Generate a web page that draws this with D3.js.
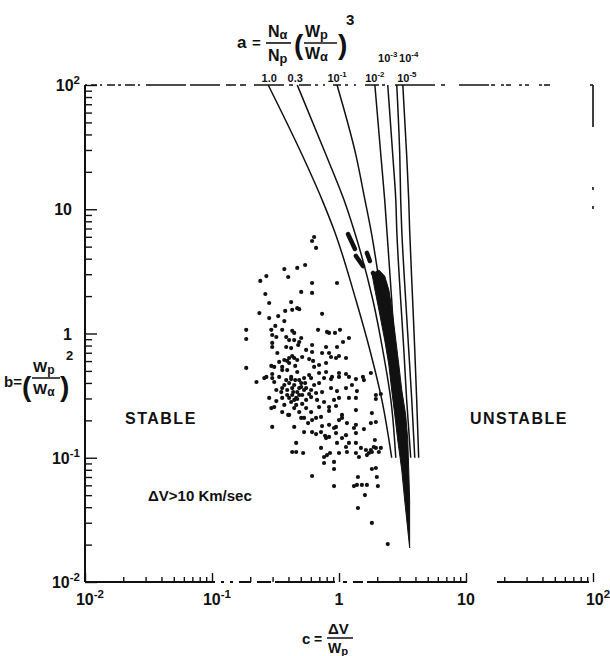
<!DOCTYPE html>
<html><head><meta charset="utf-8">
<script src="https://cdn.jsdelivr.net/npm/d3@7"></script>
<style>
body{margin:0;background:#fff}
text{font-family:"Liberation Sans",Arial,Helvetica,sans-serif;font-weight:bold;fill:#111}
</style>
</head><body>
<svg id="chart" width="610" height="656"></svg>
<script>
// ---------------- DATA ----------------
const xMajorTicks = [0.01, 0.1, 1, 10, 100];
const xTickBase = ["10", "10", "1", "10", "10"];
const xTickExp  = ["-2", "-1", "", "", "2"];
const yMajorTicks = [0.01, 0.1, 1, 10, 100];
const yTickBase = ["10", "10", "1", "10", "10"];
const yTickExp  = ["-2", "-1", "", "", "2"];

// threshold curves: label of parameter a, and c values at common b samples
const curveB = [100, 27.3, 11.9, 6.81, 1.86, 0.737, 0.292, 0.1];
const curveLabelBase = ["1.0", "0.3", "10", "10", "10", "10", "10"];
const curveLabelExp  = ["", "", "-1", "-2", "-3", "-4", "-5"];
const curveA1    = [0.277, 0.513, 0.736, 0.914, 1.359, 1.75, 2.175, 2.60];
const curveA03   = [0.469, 0.791, 1.094, 1.311, 1.848, 2.21, 2.56, 2.80];
const curveA1e1  = [0.965, 1.359, 1.600, 1.782, 2.175, 2.47, 2.75, 3.12];
const curveA1e2  = [1.916, 2.135, 2.29, 2.38, 2.60, 2.75, 3.01, 3.41];
const curveA1e3  = [2.42, 2.65, 2.80, 2.85, 3.06, 3.24, 3.41, 3.67];
const curveA1e4  = [2.85, 3.01, 3.06, 3.12, 3.35, 3.54, 3.74, 3.95];
const curveA1e5  = [3.18, 3.41, 3.54, 3.60, 3.80, 3.95, 4.09, 4.24];

// dense band of observations (outline, c and b)
const bandC = [1.82,1.92,2.10,2.29,2.47,2.60,2.75,2.90,3.12,3.29,3.60,
               3.60,3.54,3.48,3.35,3.12,2.96,2.80,2.65,2.47,2.29,2.06];
const bandB = [3.01,2.24,1.41,0.886,0.558,0.351,0.221,0.139,0.0797,0.0457,0.0188,
               0.0457,0.0797,0.139,0.221,0.351,0.558,0.886,1.41,2.24,2.90,3.24];
// short dense streaks above the band: [c1,b1,c2,b2]
const streaks = [[1.177,6.32,1.335,4.79],[1.359,4.21,1.543,3.49],[1.659,4.45,1.75,3.83],[1.85,3.07,2.175,2.50]];

// individual observations [c, b]
const observedCB = [
[0.637,5.98],[0.614,5.55],[0.660,4.88],[0.541,3.56],[0.469,3.37],[0.371,3.30],[0.398,2.85],[0.268,2.90],
[0.240,2.65],[0.614,2.55],[0.965,2.55],[0.614,2.12],[0.504,2.16],[0.263,2.08],[0.282,1.76],[0.420,1.79],
[0.469,1.60],[0.486,1.57],[0.428,1.55],[0.377,1.52],[0.236,1.46],[0.736,1.44],[0.332,1.38],[0.282,1.33],
[0.371,1.26],[0.315,1.15],[0.186,1.07],[0.186,0.903],[0.293,1.07],[0.298,0.973],[0.321,0.937],[0.357,1.07],
[0.428,1.05],[0.444,1.01],[0.384,0.937],[0.684,1.07],[0.835,1.01],[0.805,1.03],[0.930,1.01],[1.018,1.07],
[1.198,0.920],[1.075,0.854],[0.504,0.920],[0.486,0.854],[0.477,0.808],[0.298,0.839],[0.298,0.779],[0.384,0.779],
[0.420,0.764],[0.614,0.808],[0.791,0.779],[0.965,0.779],[0.327,0.697],[0.551,0.737],[0.614,0.710],[0.736,0.697],
[0.835,0.697],[0.865,0.647],[1.0,0.659],[0.428,0.659],[0.405,0.635],[0.444,0.635],[0.469,0.612],[0.391,0.601],
[0.513,0.647],[0.582,0.623],[0.625,0.601],[0.697,0.558],[0.791,0.579],[0.947,0.635],[1.135,0.635],[0.293,0.548],
[0.309,0.538],[0.357,0.538],[0.186,0.528],[0.268,0.447],[0.298,0.472],[0.357,0.508],[0.391,0.508],[0.469,0.490],
[0.420,0.447],[0.582,0.463],[0.697,0.481],[0.791,0.490],[0.881,0.447],[1.0,0.481],[1.135,0.472],[1.543,0.447],
[1.782,0.481],[0.637,0.538],[0.405,0.886],[0.444,0.886],
[0.224,0.407],[0.258,0.438],[0.298,0.438],[0.338,0.447],[0.309,0.407],[0.384,0.422],[0.420,0.430],[0.486,0.422],
[0.531,0.438],[0.603,0.438],[0.697,0.399],[0.763,0.438],[0.865,0.430],[1.0,0.447],[1.198,0.447],[1.359,0.430],
[1.571,0.422],[0.321,0.351],[0.357,0.364],[0.391,0.351],[0.428,0.364],[0.504,0.371],[0.551,0.364],[0.603,0.351],
[0.660,0.332],[0.736,0.338],[0.865,0.364],[0.965,0.344],[1.135,0.364],[1.265,0.385],[1.384,0.344],[0.282,0.303],
[0.321,0.286],[0.357,0.303],[0.405,0.303],[0.469,0.297],[0.513,0.320],[0.551,0.292],[0.603,0.308],[0.672,0.292],
[0.763,0.281],[0.914,0.292],[1.0,0.303],[1.198,0.303],[1.359,0.303],[1.951,0.320],[1.951,0.297],[2.135,0.326],
[0.293,0.251],[0.309,0.256],[0.357,0.233],[0.405,0.221],[0.444,0.251],[0.486,0.233],[0.551,0.251],[0.603,0.233],
[0.697,0.256],[0.835,0.256],[0.947,0.261],[0.835,0.238],[1.359,0.242],[1.056,0.221],[0.298,0.177],[0.398,0.221],
[0.444,0.177],[0.504,0.209],[0.571,0.190],[0.660,0.209],[0.722,0.213],[0.736,0.180],[0.835,0.184],[0.947,0.177],
[1.0,0.201],[1.056,0.209],[1.155,0.190],[1.311,0.1735],[1.359,0.184],[1.571,0.170],[1.782,0.190],[1.815,0.229],
[1.951,0.194],[0.531,0.161],[0.614,0.161],[0.660,0.155],[0.722,0.161],[0.777,0.150],[0.835,0.147],[0.914,0.1735],
[0.947,0.158],[1.056,0.144],[1.135,0.152],[1.359,0.158],[0.460,0.1315],[0.428,0.1112],[0.460,0.1112],[0.522,0.1092],
[0.722,0.120],[0.791,0.144],[0.850,0.1092],[0.965,0.1315],[1.0,0.1092],[1.135,0.122],[1.155,0.1112],[1.198,0.1315],
[1.359,0.1315],[1.359,0.1092],[1.488,0.120],[1.629,0.1154],[1.719,0.1092],[1.815,0.1112],[1.951,0.120],[2.135,0.120],
[1.916,0.139],[0.763,0.1014],[0.805,0.105],[1.435,0.1014],[1.659,0.105],[0.763,0.0907],[0.914,0.0925],[0.914,0.0812],
[1.815,0.0812],[0.614,0.0713],[1.410,0.070],[1.986,0.070],[0.914,0.0592],[1.311,0.0592],[1.384,0.0604],[1.515,0.0604],
[1.659,0.0604],[2.023,0.0592],[1.600,0.0501],[1.410,0.0394],[1.815,0.0299],[2.42,0.0202],[1.951,0.0827],
[0.444,0.385],[0.469,0.338],[0.486,0.320],[0.428,0.320],[0.531,0.351],[0.460,0.266],[0.444,0.292],
[0.371,0.385],[0.405,0.399],[0.452,0.422],[0.504,0.399],[0.486,0.364],[0.541,0.399],[0.436,0.338],[0.391,0.320],
[0.351,0.338],[0.582,0.326],[0.637,0.385],[0.460,0.303],[0.420,0.281],[0.371,0.266],[0.513,0.271],
[0.371,0.612],[0.405,0.579],[0.452,0.548],[0.338,0.590],[1.88,0.122],[2.06,0.1112],[1.782,0.1154],
[0.531,0.209],[0.614,0.201]
];

// ---------------- DRAW ----------------
const svg = d3.select("#chart");
const x = d3.scaleLog().domain([0.01, 100]).range([85, 593]);
const y = d3.scaleLog().domain([0.01, 100]).range([582, 85]);
const ink = "#111";

function minorTicks(){
  const t=[]; for(let e=-2;e<2;e++) for(let k=2;k<=9;k++) t.push(k*Math.pow(10,e)); return t;
}

// axes with inward ticks
const gx = svg.append("g").attr("transform",`translate(0,${y(0.01)})`);
gx.call(d3.axisBottom(x).tickValues(minorTicks()).tickSize(-5).tickFormat(""));
gx.append("g").call(d3.axisBottom(x).tickValues(xMajorTicks).tickSize(-9).tickFormat(""));
gx.selectAll(".domain").remove();
gx.selectAll("line").attr("stroke",ink).attr("stroke-width",1.4);

const gy = svg.append("g").attr("transform",`translate(${x(0.01)},0)`);
gy.call(d3.axisLeft(y).tickValues(minorTicks()).tickSize(-7).tickFormat(""));
gy.append("g").call(d3.axisLeft(y).tickValues(yMajorTicks).tickSize(-12).tickFormat(""));
gy.selectAll(".domain").remove();
gy.selectAll("line").attr("stroke",ink).attr("stroke-width",1.4);

// frame
const X0=x(0.01), X1=x(100), Y0=y(0.01), Y1=y(100);
svg.append("line").attr("x1",X0).attr("x2",X0).attr("y1",Y1).attr("y2",Y0).attr("stroke",ink).attr("stroke-width",2);
svg.append("line").attr("x1",X0).attr("x2",X1).attr("y1",Y0).attr("y2",Y0).attr("stroke",ink).attr("stroke-width",1.8)
   .attr("stroke-dasharray","130,6,3,6,3,6,12,6,14,4,60,8,4,6,10,4,100,30,92");
svg.append("line").attr("x1",X0).attr("x2",X1).attr("y1",Y1).attr("y2",Y1).attr("stroke",ink).attr("stroke-width",1.3)
   .attr("stroke-dasharray","2,4,6,3,2,5,8,3,3,4,10,3,2,6,40,4,30,6,10,4,6,8,30,5,4,6,12,4,3,5,2,8,8,4,3,6,2,9,14,3,3,10,40,6,4,14,30");
svg.append("line").attr("x1",X1).attr("x2",X1).attr("y1",Y1).attr("y2",Y0).attr("stroke",ink).attr("stroke-width",1.6)
   .attr("stroke-dasharray","42,60,3,16,3,400");

// tick labels
function pow(g, px, py, base, exp, anchor, size){
  const t = g.append("text").attr("x",px).attr("y",py).attr("font-size",size).attr("text-anchor",anchor);
  t.append("tspan").text(base);
  if(exp) t.append("tspan").attr("dy",-0.45*size).attr("font-size",size*0.72).text(exp);
  return t;
}
xMajorTicks.forEach((v,i)=>{
  const off = xTickExp[i] ? 5 : 0;
  pow(svg, x(v)+off, 605, xTickBase[i], xTickExp[i], "middle", 16);
});
yMajorTicks.forEach((v,i)=>{
  pow(svg, yTickExp[i] ? 80 : 72, y(v)+6, yTickBase[i], yTickExp[i], "end", 16);
});

// band + streaks
const bandPts = bandC.map((c,i)=>[x(c), y(bandB[i])]);
svg.append("path").attr("d", d3.line().curve(d3.curveLinearClosed)(bandPts)).attr("fill",ink).attr("stroke",ink).attr("stroke-width",1);
svg.selectAll(".streak").data(streaks).join("line")
  .attr("x1",d=>x(d[0])).attr("y1",d=>y(d[1])).attr("x2",d=>x(d[2])).attr("y2",d=>y(d[3]))
  .attr("stroke",ink).attr("stroke-width",4.5).attr("stroke-linecap","round");

// threshold curves
const curves = [curveA1, curveA03, curveA1e1, curveA1e2, curveA1e3, curveA1e4, curveA1e5];
const line = d3.line().x(d=>x(d[0])).y(d=>y(d[1])).curve(d3.curveMonotoneY);
curves.forEach(cs=>{
  svg.append("path").attr("d", line(cs.map((c,i)=>[c,curveB[i]]))).attr("fill","none")
    .attr("stroke",ink).attr("stroke-width",1.5);
});
// curve labels at the top of each curve
const labelDx = [1, -2, 0, 0, 0, 12, 4];
const labelRow = [0, 0, 0, 0, 1, 1, 0];
curves.forEach((cs,i)=>{
  pow(svg, x(cs[0])+labelDx[i], labelRow[i] ? 62 : 82, curveLabelBase[i], curveLabelExp[i], "middle", 11);
});

// observations
svg.selectAll(".obs").data(observedCB).join("circle")
  .attr("cx",d=>x(d[0])).attr("cy",d=>y(d[1])).attr("r",2.1).attr("fill",ink);

// region labels
svg.append("text").attr("x",125).attr("y",424).attr("font-size",16).attr("letter-spacing",1.5).text("STABLE");
svg.append("text").attr("x",470).attr("y",424).attr("font-size",16).attr("letter-spacing",1.5).text("UNSTABLE");
svg.append("text").attr("x",148).attr("y",501).attr("font-size",15).text("\u0394V>10 Km/sec");

// top formula: a = (Nα/Np)(Wp/Wα)^3
const f = svg.append("g");
f.append("text").attr("x",237).attr("y",48).attr("font-size",17).text("a");
f.append("text").attr("x",252).attr("y",48).attr("font-size",15).text("=");
function sub(g,px,py,a,b,size){
  const t=g.append("text").attr("x",px).attr("y",py).attr("font-size",size);
  t.append("tspan").text(a); t.append("tspan").attr("font-size",size*0.8).attr("dy",2).text(b); return t;
}
sub(f,268,37,"N","\u03b1",16); sub(f,268,61,"N","p",16);
f.append("line").attr("x1",266).attr("x2",291).attr("y1",43).attr("y2",43).attr("stroke",ink).attr("stroke-width",1.6);
f.append("text").attr("x",294).attr("y",54).attr("font-size",28).attr("font-weight","normal").text("(");
sub(f,305,37,"W","p",16); sub(f,305,59,"W","\u03b1",16);
f.append("line").attr("x1",304).attr("x2",337).attr("y1",43).attr("y2",43).attr("stroke",ink).attr("stroke-width",1.6);
f.append("text").attr("x",338).attr("y",54).attr("font-size",28).attr("font-weight","normal").text(")");
f.append("text").attr("x",346).attr("y",25).attr("font-size",15).text("3");

// y axis label b=(Wp/Wα)^2
const yl = svg.append("g");
yl.append("text").attr("x",4).attr("y",387).attr("font-size",15).text("b=");
yl.append("text").attr("x",22).attr("y",396).attr("font-size",28).attr("font-weight","normal").text("(");
sub(yl,33,372,"W","p",15); sub(yl,33,394,"W","\u03b1",15);
yl.append("line").attr("x1",32).attr("x2",60).attr("y1",378).attr("y2",378).attr("stroke",ink).attr("stroke-width",1.5);
yl.append("text").attr("x",60).attr("y",396).attr("font-size",28).attr("font-weight","normal").text(")");
yl.append("text").attr("x",66).attr("y",360).attr("font-size",13).text("2");

// x axis label c = ΔV/Wp
const xl = svg.append("g");
xl.append("text").attr("x",302).attr("y",644).attr("font-size",15).text("c");
xl.append("text").attr("x",314).attr("y",644).attr("font-size",14).text("=");
xl.append("text").attr("x",328).attr("y",634).attr("font-size",15).text("\u0394V");
xl.append("line").attr("x1",327).attr("x2",353).attr("y1",638).attr("y2",638).attr("stroke",ink).attr("stroke-width",1.5);
sub(xl,328,653,"W","p",14);
</script>
</body></html>
